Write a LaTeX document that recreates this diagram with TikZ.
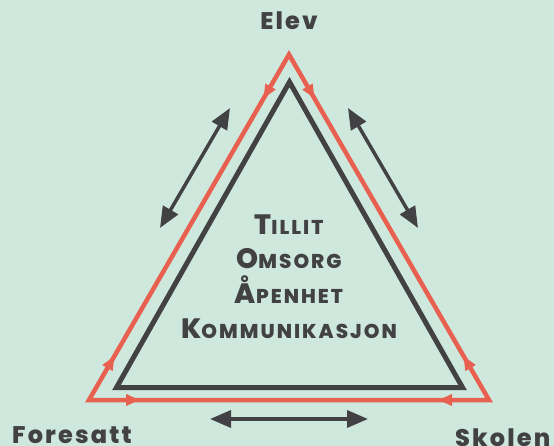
\documentclass[tikz,border=0pt]{standalone}
\usepackage{fontspec}
\setmainfont{Poppins}[BoldFont={Poppins ExtraBold}]
\usepackage{tikz}
\usetikzlibrary{arrows.meta,decorations.markings}
\definecolor{mint}{RGB}{207,232,222}
\definecolor{tegl}{RGB}{232,96,80}
\definecolor{skifer}{RGB}{66,66,69}
\newcommand\fakesc[2]{{\fontsize{28}{28}\selectfont #1}{\fontsize{20}{20}\selectfont #2}}
\tikzset{
  hjorne/.style={font=\bfseries\fontsize{24}{24}\selectfont\addfontfeatures{LetterSpace=9},text=skifer,inner sep=0pt},
  verdi/.style={font=\bfseries\addfontfeatures{LetterSpace=10},text=skifer,inner sep=0pt,anchor=base},
  rodkant/.style={draw=tegl,line width=4.5pt},
  rodpil/.style={decoration={markings,
      mark=at position 50pt with {\arrow[tegl]{Triangle[length=13pt,width=12pt]}},
      mark=at position -50pt with {\arrowreversed[tegl]{Triangle[length=13pt,width=12pt]}}},
    postaction={decorate}},
  toveis/.style={draw=skifer,line width=3.5pt,{Triangle[length=21pt,width=17pt]}-{Triangle[length=21pt,width=17pt]}}
}
\begin{document}
\begin{tikzpicture}[x=1pt,y=-1pt]
\fill[mint] (0,0) rectangle (554,446);
\useasboundingbox (0,0) rectangle (554,446);
% hjørner
\coordinate (rA) at (289,54.5); \coordinate (rB) at (89,400); \coordinate (rC) at (489,400);
\coordinate (sA) at (289.5,82); \coordinate (sB) at (116.5,387.5); \coordinate (sC) at (462.5,387.5);
\draw[rodkant] (rA) -- (rB) -- (rC) -- cycle;
\foreach \p/\q in {rA/rB,rB/rC,rC/rA} {\path[rodpil] (\p) -- (\q);}
\draw[skifer,line width=5pt] (sA) -- (sB) -- (sC) -- cycle;
% piler mellom partene
\coordinate (venstreTopp) at (230,108); \coordinate (venstreBunn) at (160,228);
\coordinate (hoyreTopp) at (348,108); \coordinate (hoyreBunn) at (418,228);
\coordinate (bunnV) at (210,419); \coordinate (bunnH) at (368,419);
\draw[toveis] (venstreTopp) -- (venstreBunn);
\draw[toveis] (hoyreTopp) -- (hoyreBunn);
\draw[toveis] (bunnV) -- (bunnH);
\node[hjorne,anchor=base] (elev) at (289,30) {Elev};
\node[hjorne,anchor=base west] (foresatt) at (12,443) {Foresatt};
\node[hjorne,anchor=base west] (skolen) at (455,446) {Skolen};
\node[verdi] (tillit) at (289,235) {\fakesc{T}{ILLIT}};
\node[verdi] (omsorg) at (289,269) {\fakesc{O}{MSORG}};
\node[verdi] (apenhet) at (289,303) {\fakesc{Å}{PENHET}};
\node[verdi] (kommunikasjon) at (289,338) {\fakesc{K}{OMMUNIKASJON}};
\end{tikzpicture}
\end{document}
